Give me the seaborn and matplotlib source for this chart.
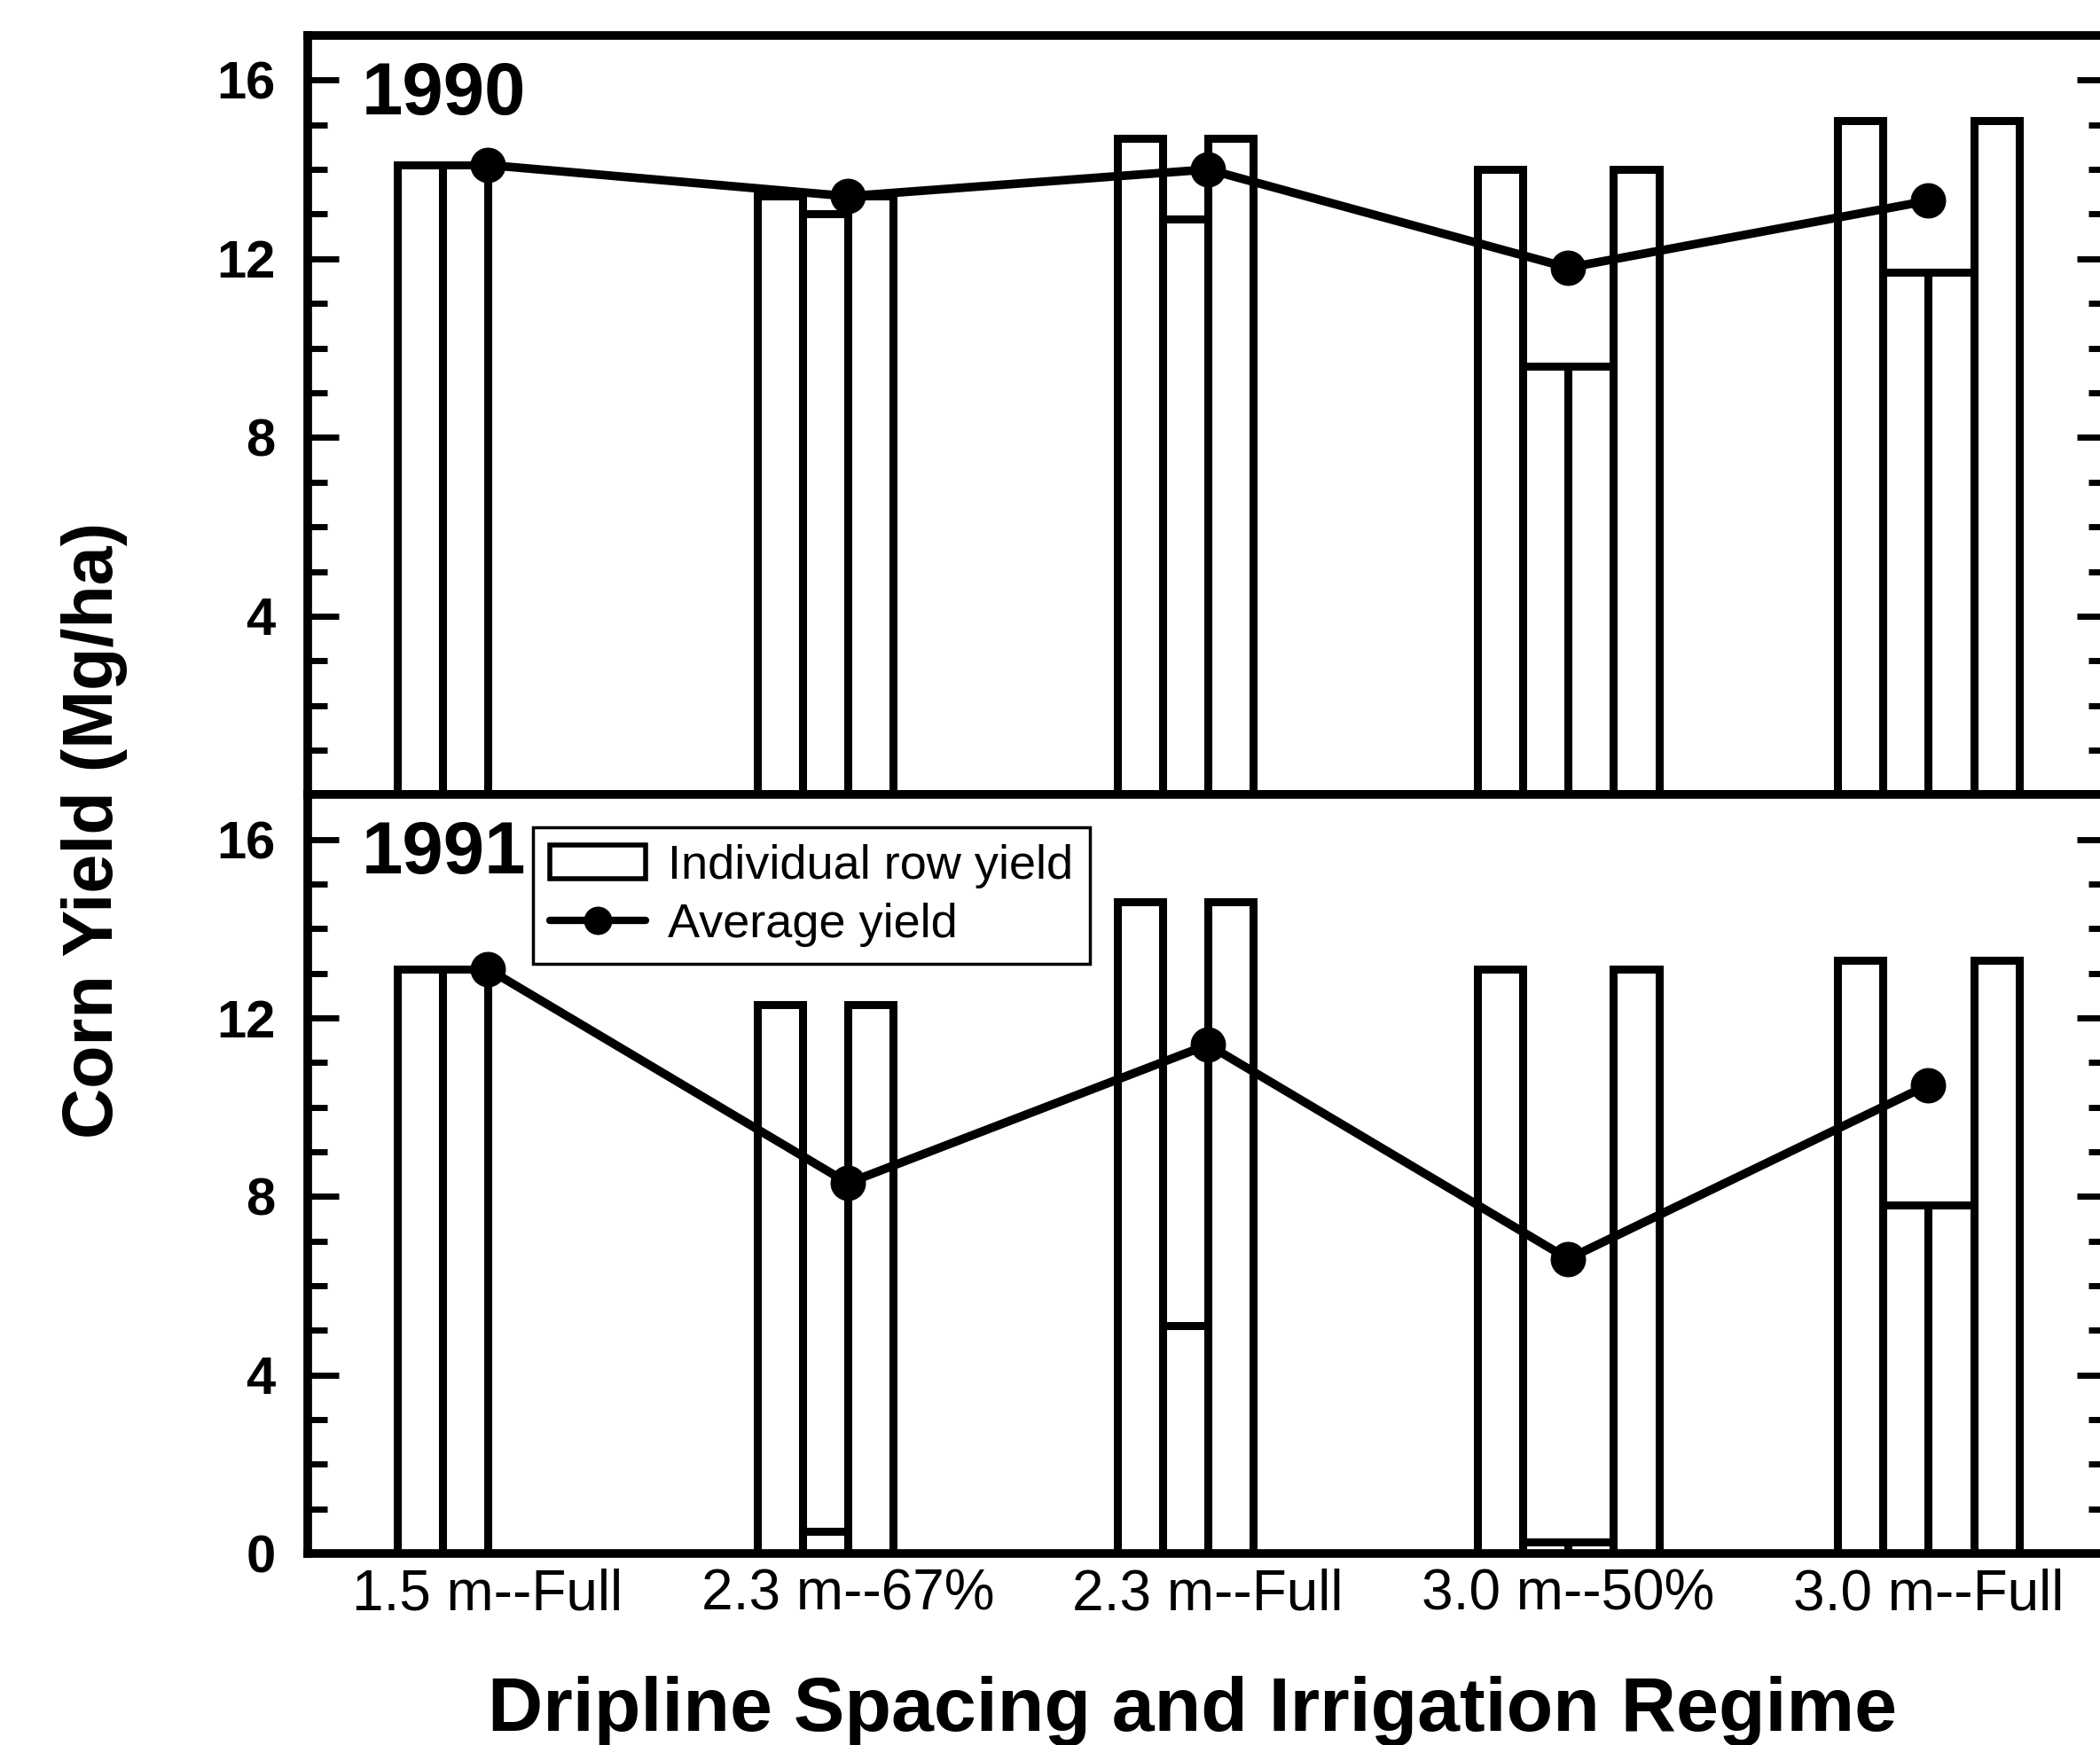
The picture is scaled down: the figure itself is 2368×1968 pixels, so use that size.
import numpy as np
import pandas as pd
import matplotlib
matplotlib.use('Agg')
import matplotlib.pyplot as plt
import seaborn as sns
from matplotlib.patches import Patch
from matplotlib.lines import Line2D
from matplotlib.ticker import MultipleLocator

# treatments (x categories)
treatments = ['1.5 m--Full', '2.3 m--67%', '2.3 m--Full', '3.0 m--50%', '3.0 m--Full']
row_names = ['r1', 'r2', 'r3', 'r4']

# individual row yields (Mg/ha), one list per treatment
rows_1990 = [[14.1, 14.1],
             [13.4, 13.0, 13.4],
             [14.7, 12.9, 14.7],
             [14.0, 9.6, 9.6, 14.0],
             [15.1, 11.7, 11.7, 15.1]]
rows_1991 = [[13.1, 13.1],
             [12.3, 0.5, 12.3],
             [14.6, 5.1, 14.6],
             [13.1, 0.25, 0.25, 13.1],
             [13.3, 7.8, 7.8, 13.3]]

# average yield per treatment
avg_1990 = [14.1, 13.4, 14.0, 11.8, 13.3]
avg_1991 = [13.1, 8.3, 11.4, 6.6, 10.5]

years = ['1990', '1991']
yticks_top = [4, 8, 12, 16]
yticks_bottom = [0, 4, 8, 12, 16]


def rows_df(rows):
    recs = []
    for t, vals in zip(treatments, rows):
        for i, v in enumerate(vals):
            recs.append({'Treatment': t, 'Row': row_names[i], 'Yield': v})
    return pd.DataFrame(recs)


sns.set_style('ticks')
plt.rcParams['font.family'] = ['Liberation Sans', 'DejaVu Sans']
plt.rcParams['text.color'] = 'black'
plt.rcParams['axes.labelcolor'] = 'black'
plt.rcParams['xtick.color'] = 'black'
plt.rcParams['ytick.color'] = 'black'

fig = plt.figure(figsize=(23.68, 19.68), dpi=100)
ax_top = fig.add_axes([0.1465, 0.5445, 0.8575, 0.4352])
ax_bot = fig.add_axes([0.1465, 0.1098, 0.8575, 0.4347])

for ax, rows, avg, year, yt in [(ax_top, rows_1990, avg_1990, years[0], yticks_top),
                                (ax_bot, rows_1991, avg_1991, years[1], yticks_bottom)]:
    df = rows_df(rows)
    sns.barplot(data=df, x='Treatment', y='Yield', hue='Row', order=treatments,
                hue_order=row_names, palette=['white'] * 4, saturation=1,
                width=0.504, dodge=True, gap=0, edgecolor='black', linewidth=6.5,
                errorbar=None, legend=False, ax=ax)
    sns.lineplot(x=np.arange(len(treatments)), y=avg, color='black', marker='o',
                 markersize=28, markeredgecolor='black', linewidth=7, ax=ax)
    ax.set_xlim(-0.5, 4.5)
    ax.set_ylim(0, 17)
    ax.set_xlabel('')
    ax.set_ylabel('')
    ax.set_yticks(yt)
    ax.set_yticklabels([str(v) for v in yt], fontweight='bold')
    ax.yaxis.set_minor_locator(MultipleLocator(1))
    ax.tick_params(axis='y', which='both', direction='in', left=True, right=True,
                   width=5, labelsize=43, color='black', labelcolor='black')
    ax.tick_params(axis='y', which='major', length=25, pad=26)
    ax.tick_params(axis='y', which='minor', length=16)
    ax.tick_params(axis='x', length=0, labelsize=46, pad=12, labelcolor='black')
    for sp in ax.spines.values():
        sp.set_linewidth(7)
        sp.set_color('black')
    ax.text(-0.35, 16.45, year, ha='left', va='top', fontsize=60, fontweight='bold',
            color='black')

ax_top.set_xticklabels([])

fig.text(0.045, 0.524, 'Corn Yield (Mg/ha)', rotation=90, ha='center', va='center',
         fontsize=57, fontweight='bold', color='black')
fig.text(0.568, 0.008, 'Dripline Spacing and Irrigation Regime', ha='center', va='baseline',
         fontsize=62, fontweight='bold', color='black')

handles = [Patch(facecolor='white', edgecolor='black', linewidth=4),
           Line2D([], [], color='black', lw=6, marker='o', markersize=22)]
leg = fig.legend(handles=handles, labels=['Individual row yield', 'Average yield'],
                 loc='upper left', bbox_to_anchor=(0.2538, 0.5259),
                 bbox_transform=fig.transFigure, frameon=True, fancybox=False,
                 edgecolor='black', framealpha=1, fontsize=39, handlelength=2.0,
                 handletextpad=0.45, borderpad=0.35, labelspacing=0.3, borderaxespad=0)
leg.get_frame().set_linewidth(2.5)
for txt in leg.get_texts():
    txt.set_color('black')

fig.savefig('out.png', dpi=100)
